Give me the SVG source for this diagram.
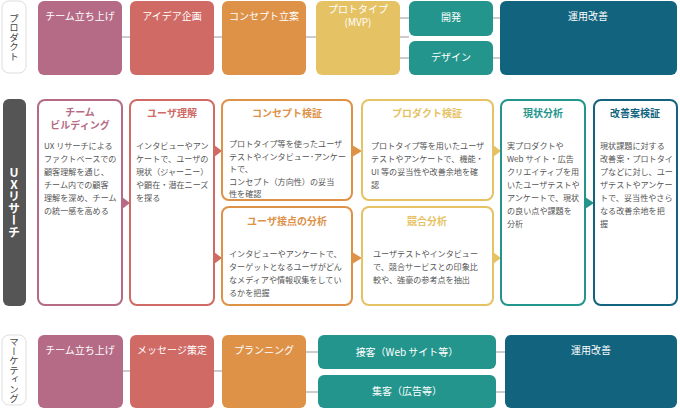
<svg xmlns="http://www.w3.org/2000/svg" width="680" height="410" viewBox="0 0 680 410">
<style>
text{font-family:"Noto Sans CJK JP","Noto Sans",sans-serif}
.w{fill:#fff;font-size:10px;text-anchor:middle}
.lab{fill:#fff;stroke:#ddd;stroke-width:1}
.lt{fill:#444;font-size:9.5px;text-anchor:middle;writing-mode:vertical-rl;text-orientation:upright}
.c1{fill:#b56a85}.c2{fill:#cf6a65}.c3{fill:#de9248}.c4{fill:#e5c264}.c5{fill:#23958c}.c6{fill:#12637e}
.b{fill:#fff;stroke-width:2}
.t{font-size:10px;font-weight:bold;text-anchor:middle}
.p{font-size:8.1px;fill:#555}
.ln{stroke:#ccc;stroke-width:2;fill:none}
</style>
<g id="connectors">
<path class="ln" d="M122 37H130M214 37H222M306 37H316M400 37H409M400 18H409M400 58H409M493 18H500M493 58H500"/>
<path class="ln" d="M123 371H130M214 371H222M306 352H318M306 392H318M496 352H505M496 392H505"/>
<polygon class="c1" points="122,197 130,203 122,209"/>
<polygon class="c2" points="214,145 222,151 214,157"/>
<polygon class="c2" points="214,252 222,258 214,264"/>
<polygon class="c3" points="352,145 362,151 352,157"/>
<polygon class="c3" points="352,252 362,258 352,264"/>
<polygon class="c4" points="493,145 501,151 493,157"/>
<polygon class="c4" points="493,252 501,258 493,264"/>
<polygon class="c5" points="585,197 594,203 585,209"/>
</g>
<g id="lab-product"><rect class="lab" x="2" y="1" width="24" height="72" rx="7"/><text class="lt" x="14" y="37">プロダクト</text></g>
<g id="p1"><rect class="c1" x="38" y="1" width="84" height="74" rx="6"/><text class="w" x="80" y="20">チーム立ち上げ</text></g>
<g id="p2"><rect class="c2" x="130" y="1" width="84" height="74" rx="6"/><text class="w" x="172" y="20">アイデア企画</text></g>
<g id="p3"><rect class="c3" x="222" y="1" width="84" height="74" rx="6"/><text class="w" x="264" y="20">コンセプト立案</text></g>
<g id="p4"><rect class="c4" x="316" y="1" width="84" height="74" rx="6"/><text class="w" x="358" y="13">プロトタイプ</text><text class="w" x="358" y="26">(MVP)</text></g>
<g id="p5"><rect class="c5" x="409" y="1" width="84" height="35" rx="6"/><text class="w" x="451" y="21">開発</text></g>
<g id="p6"><rect class="c5" x="409" y="41" width="84" height="34" rx="6"/><text class="w" x="451" y="61">デザイン</text></g>
<g id="p7"><rect class="c6" x="500" y="1" width="177" height="74" rx="6"/><text class="w" x="588" y="20">運用改善</text></g>

<g id="lab-ux"><rect x="3" y="99" width="23" height="207" rx="6" fill="#555"/><text x="14" y="202" fill="#fff" font-size="12" font-weight="bold" text-anchor="middle" style="writing-mode:vertical-rl;text-orientation:upright">UXリサーチ</text></g>
<g id="u1"><rect class="b" x="38" y="100" width="84" height="205" rx="7" stroke="#b56a85"/>
<text class="t" fill="#b56a85" x="80" y="116">チーム</text><text class="t" fill="#b56a85" x="80" y="129">ビルディング</text>
<text class="p" x="44" y="149">UX リサーチによる<tspan x="44" dy="13">ファクトベースでの</tspan><tspan x="44" dy="13">顧客理解を通じ、</tspan><tspan x="44" dy="13">チーム内での顧客</tspan><tspan x="44" dy="13">理解を深め、チーム</tspan><tspan x="44" dy="13">の統一感を高める</tspan></text></g>
<g id="u2"><rect class="b" x="130" y="100" width="84" height="205" rx="7" stroke="#cf6a65"/>
<text class="t" fill="#cf6a65" x="172" y="117">ユーザ理解</text>
<text class="p" x="136" y="149">インタビューやアン<tspan x="136" dy="13">ケートで、ユーザの</tspan><tspan x="136" dy="13">現状（ジャーニー）</tspan><tspan x="136" dy="13">や顕在・潜在ニーズ</tspan><tspan x="136" dy="13">を探る</tspan></text></g>
<g id="u3"><rect class="b" x="222" y="100" width="130" height="100" rx="7" stroke="#de9248"/>
<text class="t" fill="#de9248" x="287" y="117">コンセプト検証</text>
<text class="p" x="229" y="147">プロトタイプ等を使ったユーザ<tspan x="229" dy="12.5">テストやインタビュー･アンケー</tspan><tspan x="229" dy="12.5">トで、</tspan><tspan x="229" dy="12.5">コンセプト（方向性）の妥当</tspan><tspan x="229" dy="12.5">性を確認</tspan></text></g>
<g id="u4"><rect class="b" x="222" y="207" width="130" height="98" rx="7" stroke="#de9248"/>
<text class="t" fill="#de9248" x="287" y="225">ユーザ接点の分析</text>
<text class="p" x="229" y="257">インタビューやアンケートで、<tspan x="229" dy="13">ターゲットとなるユーザがどん</tspan><tspan x="229" dy="13">なメディアや情報収集をしてい</tspan><tspan x="229" dy="13">るかを把握</tspan></text></g>
<g id="u5"><rect class="b" x="362" y="100" width="131" height="100" rx="7" stroke="#e5c264"/>
<text class="t" fill="#e5c264" x="427" y="117">プロダクト検証</text>
<text class="p" x="371" y="149">プロトタイプ等を用いたユーザ<tspan x="371" dy="13">テストやアンケートで、機能・</tspan><tspan x="371" dy="13">UI 等の妥当性や改善余地を確</tspan><tspan x="371" dy="13">認</tspan></text></g>
<g id="u6"><rect class="b" x="362" y="207" width="131" height="98" rx="7" stroke="#e5c264"/>
<text class="t" fill="#e5c264" x="427" y="225">競合分析</text>
<text class="p" x="373" y="257">ユーザテストやインタビュー<tspan x="373" dy="13">で、競合サービスとの印象比</tspan><tspan x="373" dy="13">較や、強豪の参考点を抽出</tspan></text></g>
<g id="u7"><rect class="b" x="501" y="100" width="84" height="205" rx="7" stroke="#23958c"/>
<text class="t" fill="#23958c" x="543" y="117">現状分析</text>
<text class="p" x="507" y="149">実プロダクトや<tspan x="507" dy="13">Web サイト・広告</tspan><tspan x="507" dy="13">クリエイティブを用</tspan><tspan x="507" dy="13">いたユーザテストや</tspan><tspan x="507" dy="13">アンケートで、現状</tspan><tspan x="507" dy="13">の良い点や課題を</tspan><tspan x="507" dy="13">分析</tspan></text></g>
<g id="u8"><rect class="b" x="594" y="100" width="83" height="205" rx="7" stroke="#12637e"/>
<text class="t" fill="#12637e" x="635" y="117">改善案検証</text>
<text class="p" x="600" y="149">現状課題に対する<tspan x="600" dy="13">改善案・プロトタイ</tspan><tspan x="600" dy="13">プなどに対し、ユー</tspan><tspan x="600" dy="13">ザテストやアンケー</tspan><tspan x="600" dy="13">トで、妥当性やさら</tspan><tspan x="600" dy="13">なる改善余地を把</tspan><tspan x="600" dy="13">握</tspan></text></g>

<g id="lab-mk"><rect class="lab" x="2" y="335" width="24" height="70" rx="7"/><text class="lt" x="14" y="370" font-size="8">マーケティング</text></g>
<g id="m1"><rect class="c1" x="38" y="335" width="85" height="73" rx="6"/><text class="w" x="80" y="354">チーム立ち上げ</text></g>
<g id="m2"><rect class="c2" x="130" y="335" width="84" height="73" rx="6"/><text class="w" x="172" y="354">メッセージ策定</text></g>
<g id="m3"><rect class="c3" x="222" y="335" width="84" height="73" rx="6"/><text class="w" x="264" y="354">プランニング</text></g>
<g id="m4"><rect class="c5" x="318" y="335" width="178" height="34" rx="6"/><text class="w" x="407" y="356">接客（Web サイト等）</text></g>
<g id="m5"><rect class="c5" x="318" y="375" width="178" height="33" rx="6"/><text class="w" x="407" y="395">集客（広告等）</text></g>
<g id="m6"><rect class="c6" x="505" y="335" width="172" height="73" rx="6"/><text class="w" x="591" y="354">運用改善</text></g>
</svg>
